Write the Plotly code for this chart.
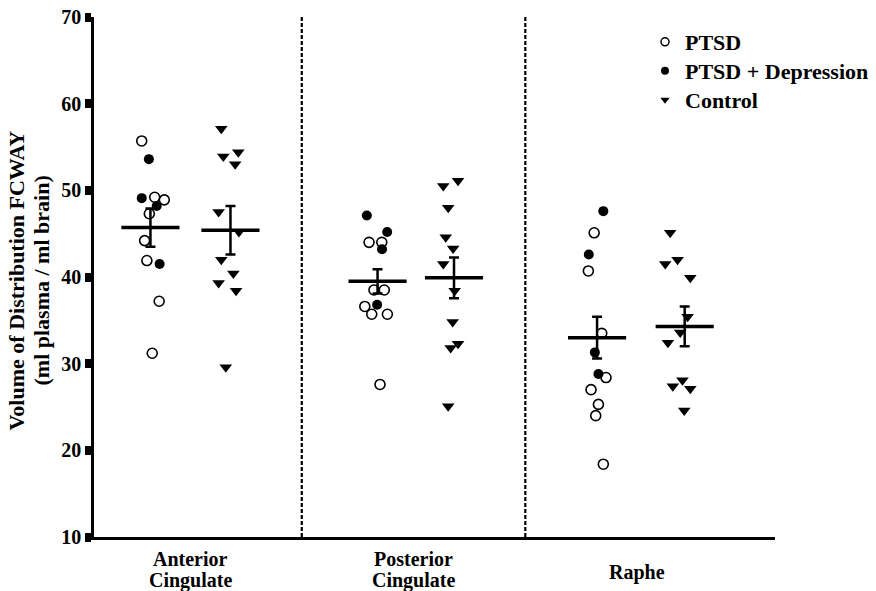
import plotly.graph_objects as go

# ---------------- data ----------------
regions = ["Anterior Cingulate", "Posterior Cingulate", "Raphe"]
category_labels = ["Anterior<br>Cingulate", "Posterior<br>Cingulate", "Raphe"]
category_pos = [1, 2, 3]
legend_names = ["PTSD", "PTSD + Depression", "Control"]

# PTSD without depression (open circles)
ptsd_values = [
    [55.7, 49.2, 48.9, 47.3, 44.2, 41.9, 37.2, 31.2],
    [44.0, 44.0, 38.5, 38.5, 36.6, 35.7, 35.7, 27.6],
    [45.1, 40.7, 33.5, 28.4, 27.0, 25.3, 24.0, 18.4],
]
# PTSD + depression (filled circles)
ptsd_dep_values = [
    [53.6, 49.1, 48.2, 41.5],
    [47.1, 45.2, 43.2, 36.8],
    [47.6, 42.6, 31.3, 28.8],
]
# Controls (triangles)
control_values = [
    [57.1, 53.9, 54.4, 53.0, 47.5, 45.2, 42.0, 40.4, 39.3, 38.4, 29.6],
    [51.1, 50.5, 48.0, 44.6, 43.3, 41.5, 38.4, 34.8, 32.3, 31.8, 25.1],
    [45.1, 42.0, 41.5, 39.9, 35.4, 33.6, 32.4, 28.1, 27.4, 27.1, 24.6],
]
# group mean and SEM
ptsd_mean = [45.7, 39.5, 33.0]
ptsd_sem = [2.2, 1.4, 2.4]
control_mean = [45.4, 39.9, 34.3]
control_sem = [2.8, 2.35, 2.3]

# ---------------- positions (layout, category units) ----------------
ptsd_center = [0.823, 1.839, 2.821]
control_center = [1.181, 2.181, 3.213]
ptsd_jitter = [
    [-0.039, 0.019, 0.062, -0.005, -0.026, -0.016, 0.039, 0.008],
    [-0.038, 0.019, -0.016, 0.030, -0.057, -0.026, 0.044, 0.011],
    [-0.013, -0.039, 0.021, 0.040, -0.027, 0.006, -0.006, 0.028],
]
ptsd_dep_jitter = [
    [-0.007, -0.039, 0.028, 0.041],
    [-0.048, 0.043, 0.020, -0.002],
    [0.028, -0.037, -0.010, 0.006],
]
control_jitter = [
    [-0.041, -0.032, 0.035, 0.021, -0.053, 0.038, -0.041, 0.013, -0.053, 0.025, -0.021],
    [0.018, -0.048, -0.026, -0.037, -0.004, -0.048, 0.003, -0.006, 0.018, -0.015, -0.026],
    [-0.065, -0.032, -0.087, 0.025, 0.013, -0.020, -0.075, -0.010, -0.053, 0.025, -0.002],
]
mean_half_width = 0.13

FONT = "Liberation Serif"
W, H = 876, 591
ML, MR, MT, MB = 94, 101, 17, 54
PW, PH = W - ML - MR, H - MT - MB


def py2paper(py):
    return (MT + PH - py) / PH


def px2paper(px):
    return (px - ML) / PW


def flatten(centers, jitters, values):
    xs, ys = [], []
    for c, js, vs in zip(centers, jitters, values):
        for j, v in zip(js, vs):
            xs.append(c + j)
            ys.append(v)
    return xs, ys


open_marker = dict(symbol="circle-open", size=10, color="black",
                   line=dict(width=1.6, color="black"))
fill_marker = dict(symbol="circle", size=10, color="black")
tri_marker = dict(symbol="triangle-down", size=11, color="black")

fig = go.Figure()

x, y = flatten(ptsd_center, ptsd_jitter, ptsd_values)
fig.add_trace(go.Scatter(x=x, y=y, mode="markers", showlegend=False, marker=open_marker))
x, y = flatten(ptsd_center, ptsd_dep_jitter, ptsd_dep_values)
fig.add_trace(go.Scatter(x=x, y=y, mode="markers", showlegend=False, marker=fill_marker))
x, y = flatten(control_center, control_jitter, control_values)
fig.add_trace(go.Scatter(x=x, y=y, mode="markers", showlegend=False, marker=tri_marker))

# mean lines
mx, my = [], []
for centers, means in ((ptsd_center, ptsd_mean), (control_center, control_mean)):
    for c, m in zip(centers, means):
        mx += [c - mean_half_width, c + mean_half_width, None]
        my += [m, m, None]
fig.add_trace(go.Scatter(x=mx, y=my, mode="lines", showlegend=False,
                         line=dict(color="black", width=3.5)))

# SEM error bars
fig.add_trace(go.Scatter(x=ptsd_center + control_center, y=ptsd_mean + control_mean,
                         mode="markers", showlegend=False,
                         marker=dict(size=1, color="rgba(0,0,0,0)"),
                         error_y=dict(type="data", array=ptsd_sem + control_sem,
                                      color="black", thickness=2.5, width=5)))

# legend entries, each in its own legend box so row spacing can match
legend_markers = [
    dict(symbol="circle-open", size=8, color="black", line=dict(width=1.5, color="black")),
    dict(symbol="circle", size=8, color="black"),
    dict(symbol="triangle-down", size=8, color="black"),
]
legend_rows_px = [42, 71, 100]
legend_ids = ["legend", "legend2", "legend3"]
legend_layout = {}
for name, mk, lid, row in zip(legend_names, legend_markers, legend_ids, legend_rows_px):
    fig.add_trace(go.Scatter(x=[None], y=[None], mode="markers", name=name,
                             marker=mk, legend=lid))
    legend_layout[lid] = dict(
        x=px2paper(645), y=py2paper(row), xanchor="left", yanchor="middle",
        font=dict(family=FONT, size=22, color="black", weight="bold"),
        bgcolor="rgba(0,0,0,0)", itemwidth=30)

# dashed separators
for xs in (1.5, 2.5):
    fig.add_shape(type="line", xref="x", yref="paper", x0=xs, x1=xs, y0=0, y1=1,
                  line=dict(color="black", width=2.2, dash="4px,2px"))

annotations = []
# category labels
for pos, lab in zip(category_pos, category_labels):
    lines = lab.split("<br>")
    pys = [559, 580] if len(lines) == 2 else [572]
    for line, py in zip(lines, pys):
        annotations.append(dict(x=pos, xref="x", y=py2paper(py), yref="paper",
                                text=line, showarrow=False, xanchor="center",
                                yanchor="middle",
                                font=dict(family=FONT, size=20, color="black",
                                          weight="bold")))
# y-axis title, two lines
for text, px in (("Volume of Distribution FCWAY", 16), ("(ml plasma / ml brain)", 41)):
    annotations.append(dict(x=px2paper(px), xref="paper", y=py2paper(280.5),
                            yref="paper", text=text, showarrow=False, textangle=-90,
                            xanchor="center", yanchor="middle",
                            font=dict(family=FONT, size=22, color="black", weight="bold")))

fig.update_layout(
    width=W, height=H,
    margin=dict(l=ML, r=MR, t=MT, b=MB, pad=0, autoexpand=False),
    paper_bgcolor="white", plot_bgcolor="white",
    font=dict(family=FONT, color="black"),
    annotations=annotations,
    xaxis=dict(range=[0.5705, 3.617], showgrid=False, zeroline=False,
               showline=True, linecolor="black", linewidth=2.5,
               showticklabels=False, ticks="", automargin=False),
    yaxis=dict(range=[10, 70], dtick=10, showgrid=False, zeroline=False,
               showline=True, linecolor="black", linewidth=2.5,
               ticks="outside", ticklen=6, tickwidth=9, tickcolor="black",
               automargin=False,
               tickfont=dict(family=FONT, size=20, color="black", weight="bold")),
    **legend_layout,
)

fig.write_html("out.html", config={"displayModeBar": False},
               post_script="document.body.style.margin='0';document.body.style.padding='0';")
